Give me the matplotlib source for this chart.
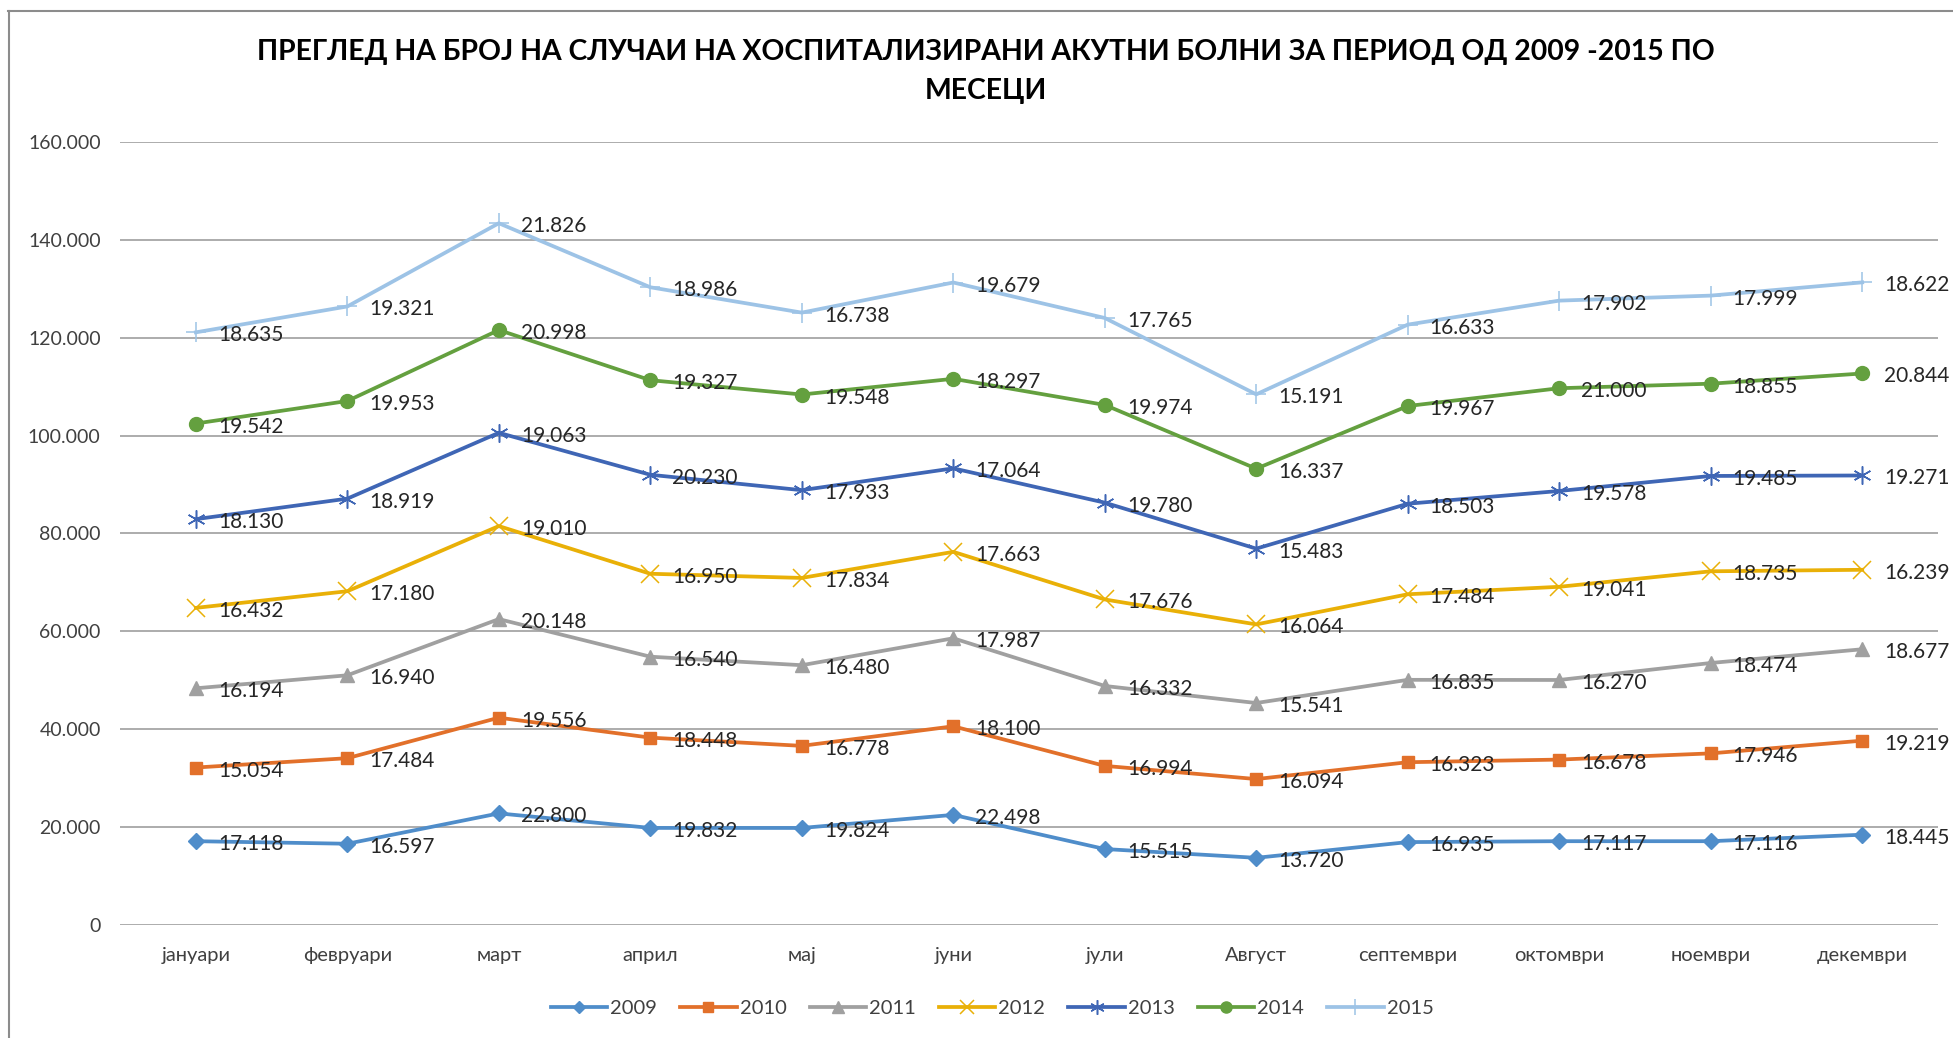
import matplotlib
matplotlib.use("Agg")
import matplotlib.pyplot as plt
import numpy as np
from matplotlib.lines import Line2D
from matplotlib.ticker import FuncFormatter, MultipleLocator

plt.rcParams['font.family'] = ['Lato', 'DejaVu Sans']

months = ["јануари", "февруари", "март", "април", "мај", "јуни", "јули",
          "Август", "септември", "октомври", "ноември", "декември"]
years = ["2009", "2010", "2011", "2012", "2013", "2014", "2015"]

v2009 = [17118, 16597, 22800, 19832, 19824, 22498, 15515, 13720, 16935, 17117, 17116, 18445]
v2010 = [15054, 17484, 19556, 18448, 16778, 18100, 16994, 16094, 16323, 16678, 17946, 19219]
v2011 = [16194, 16940, 20148, 16540, 16480, 17987, 16332, 15541, 16835, 16270, 18474, 18677]
v2012 = [16432, 17180, 19010, 16950, 17834, 17663, 17676, 16064, 17484, 19041, 18735, 16239]
v2013 = [18130, 18919, 19063, 20230, 17933, 17064, 19780, 15483, 18503, 19578, 19485, 19271]
v2014 = [19542, 19953, 20998, 19327, 19548, 18297, 19974, 16337, 19967, 21000, 18855, 20844]
v2015 = [18635, 19321, 21826, 18986, 16738, 19679, 17765, 15191, 16633, 17902, 17999, 18622]

series = [v2009, v2010, v2011, v2012, v2013, v2014, v2015]
colors = ["#4F8DCA", "#E2702A", "#A0A0A0", "#E9B007", "#3F66B5", "#64A03F", "#9DC3E6"]
markers = ["D", "s", "^", "x", (6, 2, 0), "o", "+"]
msizes = [8, 9, 10, 13, 13, 10, 14]
mews = [1, 1, 1, 1.1, 1.1, 1, 1.1]

def fmt(v, pos=None):
    return f"{int(round(v)):,}".replace(",", ".")

fig = plt.figure(figsize=(19.53, 10.38), dpi=100)
ax = fig.add_axes([0.0615, 0.1089, 0.9308, 0.7543])

x = np.arange(len(months))
cum = np.zeros(len(months))
handles = []
for name, vals, c, m, ms, mew in zip(years, series, colors, markers, msizes, mews):
    vals = np.array(vals, dtype=float)
    cum = cum + vals
    h, = ax.plot(x, cum, color=c, lw=2.7, marker=m, markersize=ms,
                 markeredgewidth=mew, markeredgecolor=c, markerfacecolor=c,
                 label=name, zorder=3, clip_on=False)
    handles.append(h)
    for xi, yi, v in zip(x, cum, vals):
        ax.annotate(fmt(v), (xi, yi), xytext=(22, -3), textcoords="offset pixels",
                    ha="left", va="center", fontsize=15, color="#262626",
                    zorder=4, annotation_clip=False)

ax.set_xlim(-0.5, len(months) - 0.5)
ax.set_ylim(0, 160000)
ax.yaxis.set_major_locator(MultipleLocator(20000))
ax.yaxis.set_major_formatter(FuncFormatter(fmt))
ax.set_xticks(x)
ax.set_xticklabels(months)
ax.tick_params(axis="both", length=0, labelsize=14, labelcolor="#404040")
ax.tick_params(axis="x", labelsize=14.5)
ax.tick_params(axis="y", pad=14)
ax.tick_params(axis="x", pad=16)
ax.grid(axis="y", color="#A6A6A6", lw=1.3)
ax.set_axisbelow(True)
for s in ax.spines.values():
    s.set_visible(False)

fig.text(0.505, 0.950, "ПРЕГЛЕД НА БРОЈ НА СЛУЧАИ НА ХОСПИТАЛИЗИРАНИ АКУТНИ БОЛНИ ЗА ПЕРИОД ОД 2009 -2015 ПО",
         ha="center", va="center", fontsize=20.4, fontweight="bold", color="#000000")
fig.text(0.505, 0.912, "МЕСЕЦИ", ha="center", va="center", fontsize=20.4,
         fontweight="bold", color="#000000")

leg = fig.legend(handles=handles, loc="center", bbox_to_anchor=(0.508, 0.028),
                 ncol=7, frameon=False, fontsize=14.5, handlelength=2.8,
                 columnspacing=1.15, handletextpad=0.15, markerscale=0.8)
for t in leg.get_texts():
    t.set_color("#404040")

fig.add_artist(Line2D([0.004, 1.0], [1 - 10.5 / 1038, 1 - 10.5 / 1038],
                      transform=fig.transFigure, color="#8C8C8C", lw=1.5))
fig.add_artist(Line2D([8.5 / 1953, 8.5 / 1953], [0, 1 - 10.5 / 1038],
                      transform=fig.transFigure, color="#8C8C8C", lw=1.5))

fig.savefig("out.png", dpi=100, facecolor="white")
